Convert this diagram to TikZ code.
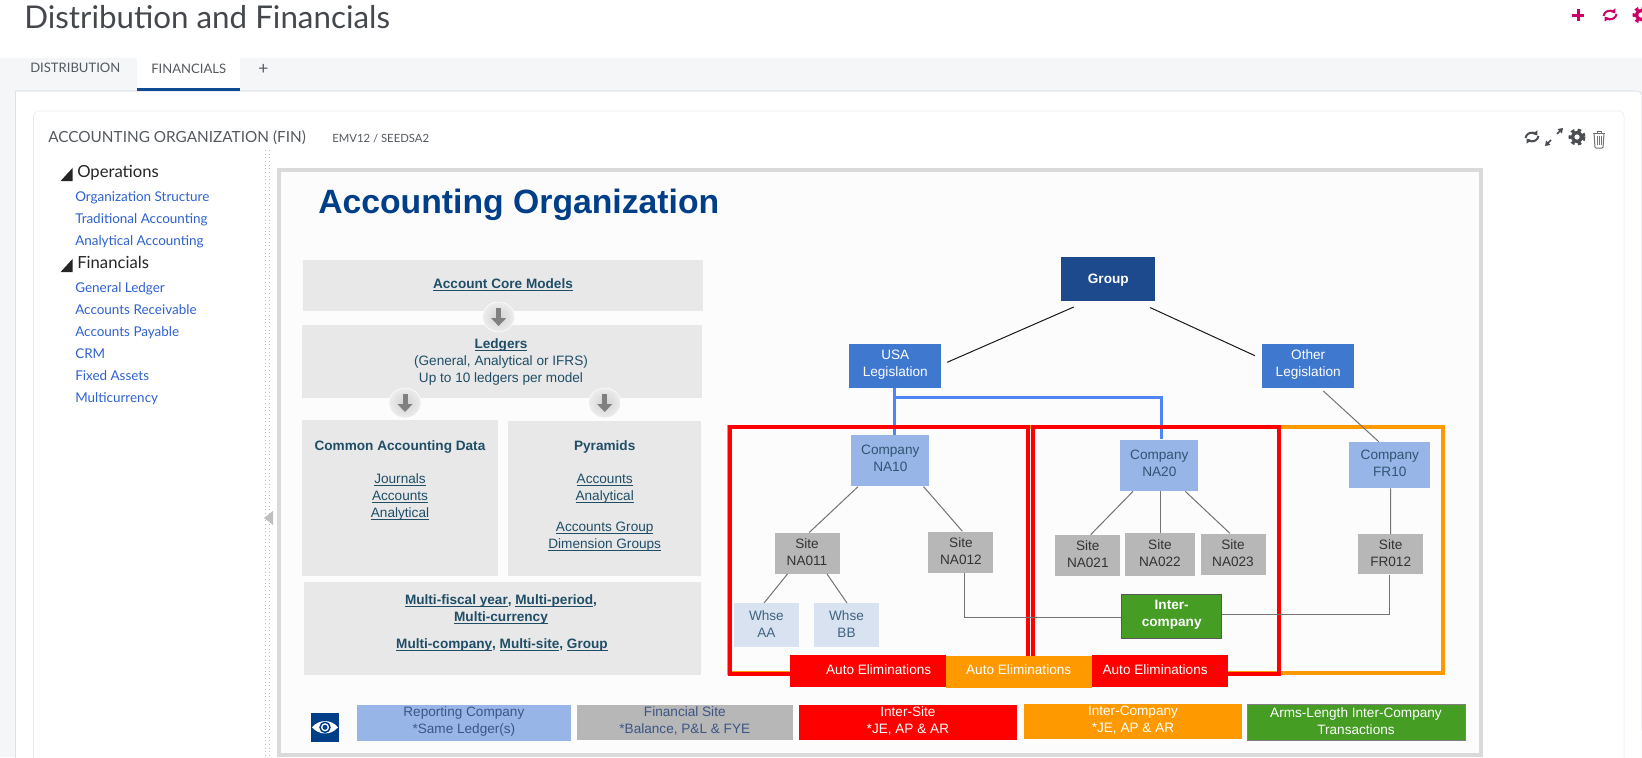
\documentclass[tikz,border=0pt]{standalone}
\usepackage{fontspec}
\usetikzlibrary{arrows.meta, shapes.geometric}
\setmainfont{Liberation Sans}
\newfontfamily\uifont{Lato}
\newdimen\px \px=0.75pt
\newcommand{\lnk}[1]{\vphantom{Ag}\underline{\smash{#1}}}
\newcommand{\lift}[1]{\rule[-#1pt]{0pt}{0pt}}
\definecolor{pageband}{HTML}{F5F6F8}
\definecolor{panelline}{HTML}{CFD4DC}
\definecolor{tabblue}{HTML}{0F4A94}
\definecolor{uigrey}{HTML}{555A60}
\definecolor{sidelink}{HTML}{2F62D0}
\definecolor{iconpink}{HTML}{CC0066}
\definecolor{icondark}{HTML}{4A4D52}
\definecolor{framegrey}{HTML}{DADADA}
\definecolor{framefill}{HTML}{FCFCFC}
\definecolor{paneltone}{HTML}{E8E8E8}
\definecolor{paneltext}{HTML}{1F4E66}
\definecolor{headblue}{HTML}{003F87}
\definecolor{groupblue}{HTML}{1C4A8C}
\definecolor{legalblue}{HTML}{3F78CF}
\definecolor{linkblue}{HTML}{4F85F5}
\definecolor{companyblue}{HTML}{97B6E7}
\definecolor{companytext}{HTML}{2F5573}
\definecolor{sitegrey}{HTML}{B7B7B7}
\definecolor{whseblue}{HTML}{D9E2F0}
\definecolor{whsetext}{HTML}{3F6480}
\definecolor{intergreen}{HTML}{459D24}
\definecolor{interorange}{HTML}{FF9900}
\definecolor{legendtext}{HTML}{3B5585}
\begin{document}
\begin{tikzpicture}[
    x=0.75pt, y=-0.75pt,
    box/.style={rectangle, inner sep=0pt, align=center, font=\fontsize{10.2pt}{12.7pt}\selectfont},
    panel/.style={box, fill=paneltone},
    paneltxt/.style={box, text=paneltext},
    legal/.style={box, fill=legalblue, text=white, minimum width=92\px, minimum height=44\px},
    company/.style={box, fill=companyblue, text=companytext},
    sitebox/.style={box, fill=sitegrey, text=black!80, minimum width=65\px, minimum height=41\px},
    whse/.style={box, fill=whseblue, text=whsetext, minimum width=65\px, minimum height=43.4\px},
    elim/.style={box, text=white, minimum height=32\px},
    legend/.style={box, minimum height=35\px},
    framebox/.style={rectangle, draw, inner sep=0pt, line width=4\px},
    thinline/.style={draw=black!55, line width=1\px},
    blackline/.style={draw=black!90, line width=1\px},
    blueline/.style={draw=linkblue, line width=3\px},
    button/.style={ellipse, inner sep=0pt, minimum width=32\px, minimum height=30\px, inner color=black!18, outer color=black!7, draw=white},
    downarrow/.style={-{Triangle[length=6pt,width=11pt]}, draw=black!50, line width=5\px},
    uitext/.style={inner sep=0pt, anchor=west, text height=8pt, text depth=0pt, font=\uifont\fontsize{9.8pt}{12pt}\selectfont},
    sidelinktxt/.style={uitext, text=sidelink, font=\uifont\fontsize{10.1pt}{12pt}\selectfont},
    sidehead/.style={uitext, text=black!85, font=\uifont\fontsize{12.5pt}{14pt}\selectfont},
    refreshicon/.pic={
        \draw[line width=2\px, -{Triangle[length=3pt,width=4.5pt]}] (-6.5,1) arc[start angle=190, end angle=325, radius=6.5];
        \draw[line width=2\px, -{Triangle[length=3pt,width=4.5pt]}] (6.5,-1) arc[start angle=10, end angle=145, radius=6.5];
    },
    gearicon/.pic={
        \fill (0,0) circle[radius=6];
        \draw[line width=3\px, dash pattern=on 2.6pt off 2.4pt] (0,0) circle[radius=7];
        \fill[white] (0,0) circle[radius=2.6];
    }
]

% Page background
\path[use as bounding box] (0,0) rectangle (1642,757);
\clip (0,0) rectangle (1642,757);
\fill[white] (0,0) rectangle (1642,757);
\fill[pageband] (0,58) rectangle (1642,757);
\draw[panelline, fill=white] (15.6,760) -- (15.6,91) -- (1637,91) arc[start angle=-90, end angle=-10, radius=5] -- (1642,760) -- cycle;
\draw[black!8, fill=white, rounded corners=5\px] (33.5,770) -- (33.5,111) -- (1624,111) -- (1624,770);

% Header
\node[uitext, text=uigrey!80!black, text height=17pt, font=\uifont\fontsize{23.5pt}{26pt}\selectfont] (pagetitle) at (24,17) {Distribution and Financials};
\draw[iconpink, line width=3\px] (1572,15) -- (1584,15) (1578,9) -- (1578,21);
\pic[iconpink] at (1610,15) {refreshicon};
\pic[iconpink] at (1641,15) {gearicon};

% Tabs
\fill[white] (137,58) rectangle (240,91);
\fill[tabblue] (137,88) rectangle (240,91);
\node[uitext, text=uigrey] (tabdist) at (30,67) {DISTRIBUTION};
\node[uitext, text=uigrey] (tabfin) at (151,68) {FINANCIALS};
\node[uitext, text=uigrey, font=\uifont\fontsize{13pt}{14pt}\selectfont] (tabplus) at (258,69) {+};

% Card header
\node[uitext, text=uigrey, font=\uifont\fontsize{11.5pt}{14pt}\selectfont] (cardtitle) at (48,137) {ACCOUNTING ORGANIZATION (FIN)};
\node[uitext, text=uigrey, text height=6pt, font=\uifont\fontsize{8.5pt}{10pt}\selectfont] (cardsub) at (332,138) {EMV12 / SEEDSA2};
\pic[icondark] at (1532,137) {refreshicon};
\draw[icondark, line width=1.5\px, -{Triangle[length=3.5pt,width=4.5pt]}] (1557,134) -- (1563,128);
\draw[icondark, line width=1.5\px, -{Triangle[length=3.5pt,width=4.5pt]}] (1551,140) -- (1545,146);
\pic[icondark] at (1577,137) {gearicon};
\draw[black!55, line width=1\px, rounded corners=1\px] (1594,133) -- (1595,148) -- (1603,148) -- (1604,133);
\draw[black!55, line width=1\px] (1593,133) -- (1605,133) (1597,133) -- (1597,131) -- (1601,131) -- (1601,133);
\draw[black!55, line width=1\px] (1597,136) -- (1597,145) (1599,136) -- (1599,145) (1601,136) -- (1601,145);

% Side menu
\fill[black!85] (72.5,168) -- (72.5,181) -- (60.6,181) -- cycle;
\node[sidehead] (opshead) at (77,172) {Operations};
\node[sidelinktxt] (orgstruct) at (75,196) {Organization Structure};
\node[sidelinktxt] (tradacc) at (75,218) {Traditional Accounting};
\node[sidelinktxt] (anaacc) at (75,240) {Analytical Accounting};
\fill[black!85] (72.5,259) -- (72.5,272) -- (60.6,272) -- cycle;
\node[sidehead] (finhead) at (77,263) {Financials};
\node[sidelinktxt] (glledger) at (75,287) {General Ledger};
\node[sidelinktxt] (accrec) at (75,309) {Accounts Receivable};
\node[sidelinktxt] (accpay) at (75,331) {Accounts Payable};
\node[sidelinktxt] (crmlink) at (75,353) {CRM};
\node[sidelinktxt] (fixedas) at (75,375) {Fixed Assets};
\node[sidelinktxt] (multicur) at (75,397) {Multicurrency};

% Divider
\draw[black!25, line width=1\px, dotted] (265,150) -- (265,757);
\draw[black!25, line width=1\px, dotted] (269,150) -- (269,757);
\fill[black!25] (264,518) -- (273,511) -- (273,525) -- cycle;

% Diagram frame
\draw[framegrey, fill=framefill, line width=4\px] (279,170) rectangle (1481,755);
\node[box, text=headblue, font=\bfseries\fontsize{25.3pt}{28pt}\selectfont, anchor=west] (doctitle) at (318,205) {Accounting Organization};

% Left panels
\node[panel, minimum width=399.5\px, minimum height=51\px] (coreBox) at (502.8,285.5) {};
\node[panel, minimum width=400.4\px, minimum height=73\px] (ledgerBox) at (501.8,361.5) {};
\node[panel, minimum width=195.7\px, minimum height=155.7\px] (commonBox) at (400.2,497.9) {};
\node[panel, minimum width=193\px, minimum height=154.7\px] (pyramidBox) at (604.2,498.4) {};
\node[panel, minimum width=397\px, minimum height=93\px] (multiBox) at (502.2,628.5) {};
\node[paneltxt] (coreText) at (503,285) {\textbf{\lnk{Account Core Models}}};
\node[paneltxt] (ledgerText) at (501,362) {\textbf{\lnk{Ledgers}}\\(General, Analytical or IFRS)\\Up to 10 ledgers per model};
\node[paneltxt] (commonHead) at (400,447) {\textbf{Common Accounting Data}};
\node[paneltxt] (commonText) at (400,497) {\lnk{Journals}\\\lnk{Accounts}\\\lnk{Analytical}};
\node[paneltxt] (pyramidHead) at (604.7,447) {\textbf{Pyramids}};
\node[paneltxt] (pyramidTextA) at (604.7,488.5) {\lnk{Accounts}\\\lnk{Analytical}};
\node[paneltxt] (pyramidTextB) at (604.7,536.5) {\lnk{Accounts Group}\\\lnk{Dimension Groups}};
\node[paneltxt] (multiTextA) at (501,609.5) {\textbf{\lnk{Multi-fiscal year}, \lnk{Multi-period},}\\\textbf{\lnk{Multi-currency}}};
\node[paneltxt] (multiTextB) at (502,645) {\textbf{\lnk{Multi-company}, \lnk{Multi-site}, \lnk{Group}}};

% Round buttons
\node[button] (btnLedger) at (498.6,317) {};
\node[button] (btnCommon) at (405,403) {};
\node[button] (btnPyramid) at (604.7,403) {};
\draw[downarrow] ([shift={(0,-9)}]btnLedger.center) -- ([shift={(0,9)}]btnLedger.center);
\draw[downarrow] ([shift={(0,-9)}]btnCommon.center) -- ([shift={(0,9)}]btnCommon.center);
\draw[downarrow] ([shift={(0,-9)}]btnPyramid.center) -- ([shift={(0,9)}]btnPyramid.center);

% Organization tree
\node[box, fill=groupblue, text=white, font=\bfseries\fontsize{10.2pt}{12.7pt}\selectfont, minimum width=94\px, minimum height=43.7\px] (group) at (1108.3,279.2) {\rule{0pt}{9.1pt}Group};
\node[legal] (usa) at (895.3,366) {USA\\Legislation\lift{4.4}};
\node[legal] (other) at (1308.2,366) {Other\\Legislation\lift{4.4}};
\node[company, minimum width=78\px, minimum height=51.3\px] (coNA10) at (890.3,460.7) {Company\\NA10\lift{3}};
\node[company, minimum width=78\px, minimum height=51.3\px] (coNA20) at (1159.3,465.4) {Company\\NA20\lift{3}};
\node[company, minimum width=81\px, minimum height=46\px] (coFR10) at (1389.8,465) {Company\\FR10\lift{3}};
\node[sitebox] (siteNA011) at (807,553.2) {Site\\NA011\lift{1.5}};
\node[sitebox] (siteNA012) at (960.9,552) {Site\\NA012\lift{1.5}};
\node[sitebox] (siteNA021) at (1087.8,555.4) {Site\\NA021\lift{1.5}};
\node[sitebox, minimum width=69.7\px, minimum height=42.4\px] (siteNA022) at (1159.9,554.5) {Site\\NA022\lift{1.5}};
\node[sitebox] (siteNA023) at (1233,554.2) {Site\\NA023\lift{1.5}};
\node[sitebox, minimum height=40\px] (siteFR012) at (1390.7,554.3) {Site\\FR012\lift{1.5}};
\node[whse] (whseAA) at (766.4,625) {Whse\\AA\lift{1.5}};
\node[whse] (whseBB) at (846.5,625) {Whse\\BB\lift{1.5}};
\node[box, fill=intergreen, draw=black!65, line width=1\px, text=white, font=\bfseries\fontsize{10.2pt}{12.7pt}\selectfont, minimum width=100\px, minimum height=44.3\px] (inter) at (1171.7,616.2) {Inter-\\company\lift{3.7}};

% Blue links
\draw[blueline] ([shift={(-1,0)}]usa.south) -- ([shift={(4,0)}]coNA10.north);
\draw[blueline] ([shift={(-1,9)}]usa.south) -| ([shift={(2.4,0)}]coNA20.north);

% Elimination frames
\node[framebox, draw=interorange, minimum width=714\px, minimum height=246\px] (orangeFrame) at (1086,550) {};
\node[framebox, draw=red, minimum width=298\px, minimum height=247.5\px] (redFrameA) at (878.5,550.3) {};
\node[framebox, draw=red, minimum width=245.7\px, minimum height=247.3\px] (redFrameB) at (1156.2,550.4) {};

% Connections
\draw[blackline] ([shift={(12.7,5.7)}]group.south west) -- ([shift={(5.6,-3.7)}]usa.east);
\draw[blackline] ([shift={(-5.3,6.3)}]group.south east) -- ([shift={(-7,-10.3)}]other.west);
\draw[thinline] ([shift={(15.1,2.7)}]other.south) -- ([shift={(-11,0)}]coFR10.north);
\draw[thinline] ([shift={(7,0)}]coNA10.south west) -- ([shift={(2.3,0)}]siteNA011.north);
\draw[thinline] ([shift={(-6,0)}]coNA10.south east) -- ([shift={(1.4,0)}]siteNA012.north);
\draw[thinline] ([shift={(-19.5,0)}]siteNA011.south) -- ([shift={(-2.4,0)}]whseAA.north);
\draw[thinline] ([shift={(20,0)}]siteNA011.south) -- ([shift={(0.5,0)}]whseBB.north);
\draw[thinline] ([shift={(13,0)}]coNA20.south west) -- ([shift={(2.9,0)}]siteNA021.north);
\draw[thinline] ([shift={(1.4,0)}]coNA20.south) -- ([shift={(0.8,0)}]siteNA022.north);
\draw[thinline] ([shift={(-13.3,0)}]coNA20.south east) -- ([shift={(-3,0)}]siteNA023.north);
\draw[thinline] ([shift={(0.9,0)}]coFR10.south) -- (siteFR012.north);
\draw[thinline] ([shift={(3.9,0)}]siteNA012.south) |- ([shift={(0,1.5)}]inter.west);
\draw[thinline] ([shift={(-1,0)}]siteFR012.south) |- ([shift={(0,-1.9)}]inter.east);

% Auto eliminations
\node[elim, fill=red, minimum width=156\px] (elimA) at (868,671.3) {\hspace*{16pt}Auto Eliminations\lift{3}};
\node[elim, fill=red, minimum width=136.1\px] (elimC) at (1159.6,671.3) {Auto Eliminations\hspace*{6.7pt}\lift{3}};
\node[elim, fill=interorange, minimum width=145.6\px] (elimB) at (1018.7,671.5) {Auto Eliminations\lift{3}};

% Legend
\node[box, fill=headblue, minimum width=28.3\px, minimum height=28.7\px] (eyeicon) at (325,727.3) {};
\fill[white] (312,727.3) .. controls (319,719) and (331,719) .. (338,727.3) .. controls (331,735.5) and (319,735.5) .. (312,727.3) -- cycle;
\draw[headblue, line width=1.5\px, fill=white] (325,727.3) circle[radius=5];
\fill[headblue] (325,727.3) circle[radius=2.5];
\node[legend, fill=companyblue, text=legendtext, minimum width=213.7\px, minimum height=35.7\px] (legendRep) at (463.9,722.9) {Reporting Company\\*Same Ledger(s)\lift{3.7}};
\node[legend, fill=sitegrey, text=legendtext, minimum width=215.6\px] (legendSite) at (684.8,722.5) {Financial Site\\*Balance, P\&L \& FYE\lift{3}};
\node[legend, fill=red, text=white, minimum width=218.2\px] (legendInterSite) at (907.9,722.5) {Inter-Site\\*JE, AP \& AR\lift{3}};
\node[legend, fill=interorange, text=white, minimum width=218\px] (legendInterCo) at (1133,721.5) {Inter-Company\\*JE, AP \& AR\lift{3}};
\node[legend, fill=intergreen, draw=black!50, line width=0.5\px, text=white, minimum width=217.6\px, minimum height=36\px] (legendArms) at (1356,722) {Arms-Length Inter-Company\\Transactions\lift{1.5}};

\end{tikzpicture}
\end{document}
